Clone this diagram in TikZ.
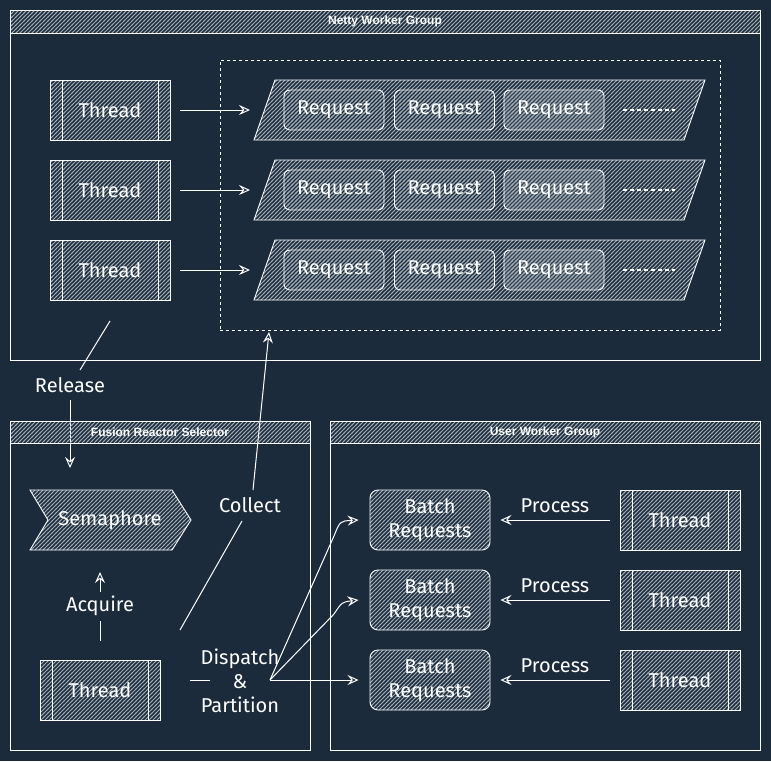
\documentclass[tikz,border=0pt]{standalone}
\usepackage{fontspec}
\setmainfont{Fira Sans}
\newfontfamily\titlefont{Liberation Sans}
\usetikzlibrary{arrows.meta,patterns.meta}
\definecolor{bg}{HTML}{1B2B3C}
\definecolor{hatchc}{HTML}{A3AEB9}
\tikzdeclarepattern{
  name=sketchhatch,
  type=uncolored,
  bottom left={(-1pt,-1pt)},
  top right={(5pt,5pt)},
  tile size={(4pt,4pt)},
  code={\draw[line width=0.75pt] (-1pt,-1pt) -- (5pt,5pt);}
}
\begin{document}
\begin{tikzpicture}[x=1pt,y=-1pt,
  every node/.style={text=white},
  hand/.style={font=\fontsize{20}{24}\selectfont},
  hatchbox/.style={draw=white, line width=0.9pt, pattern=sketchhatch, pattern color=hatchc},
  titlebar/.style={hatchbox, inner sep=0pt, font=\titlefont\bfseries\fontsize{12}{13}\selectfont},
  groupbox/.style={draw=white, line width=0.9pt, inner sep=0pt},
  threadbox/.style={hatchbox, hand, minimum width=120pt, minimum height=60pt, inner sep=0pt,
    path picture={
      \draw[white, line width=0.8pt] ([xshift=12pt]path picture bounding box.north west) -- ([xshift=12pt]path picture bounding box.south west);
      \draw[white, line width=0.8pt] ([xshift=-12pt]path picture bounding box.north east) -- ([xshift=-12pt]path picture bounding box.south east);
    }},
  reqbox/.style={hatchbox, hand, rounded corners=6pt, minimum width=100pt, minimum height=40pt, inner sep=0pt},
  batchbox/.style={hatchbox, hand, rounded corners=8pt, minimum width=120pt, minimum height=60pt, inner sep=0pt, align=center},
  plain/.style={draw=white, line width=1pt},
  arr/.style={draw=white, line width=1pt, -{Stealth[open, length=11pt, width=10pt, inset=4pt]}},
  dots/.style={draw=white, line width=1.2pt, dash pattern=on 4pt off 3pt}
]
\fill[bg] (0,0) rectangle (771,761);
\useasboundingbox (0,0) rectangle (771,761);

% Netty Worker Group
\node[titlebar, minimum width=750pt, minimum height=23pt] (nt) at (385,21.5) {Netty Worker Group};
\node[groupbox, minimum width=750pt, minimum height=327pt] (ng) at (385,196.5) {};
\node[draw=white, line width=0.9pt, dash pattern=on 3pt off 3pt, minimum width=500pt, minimum height=270pt, inner sep=0pt] (dash) at (470,195) {};

\foreach \i/\y in {1/110,2/190,3/270}{
  \node[threadbox] (t\i) at (110,\y) {Thread};
  \draw[hatchbox] (254,\y+30) -- (275,\y-30) -- (705,\y-30) -- (684,\y+30) -- cycle;
  \coordinate (pin\i) at (250,\y);
  \draw[arr] ([xshift=10pt]t\i.east) -- (pin\i);
  \node[reqbox] (ra\i) at (334,\y) {Request};
  \node[reqbox] (rb\i) at (444.5,\y) {Request};
  \node[reqbox, preaction={fill=white, fill opacity=0.1}] (rc\i) at (554,\y) {Request};
  \coordinate (da\i) at (623,\y);
  \coordinate (db\i) at (675,\y);
  \draw[dots] (da\i) -- (db\i);
}

% Release
\coordinate (r1) at (110,321);
\coordinate (r2) at (80,370);
\node[hand] (rel) at (70,385) {Release};
\coordinate (r3) at (70,400);
\coordinate (r4) at (70,468);
\draw[plain] (r1) -- (r2);
\draw[arr] (r3) -- (r4);

% Fusion Reactor Selector
\node[titlebar, minimum width=300pt, minimum height=22pt] (ft) at (160,432) {Fusion Reactor Selector};
\node[groupbox, minimum width=300pt, minimum height=307pt] (fg) at (160,596.5) {};

% User Worker Group
\node[titlebar, minimum width=430pt, minimum height=22pt] (ut) at (545,432) {User Worker Group};
\node[groupbox, minimum width=430pt, minimum height=307pt] (ug) at (545,596.5) {};

% Semaphore
\draw[hatchbox] (30,490) -- (172,490) -- (191,520) -- (172,550) -- (30,550) -- (48,520) -- cycle;
\node[hand] (sem) at (110,520) {Semaphore};

% Bottom thread
\node[threadbox] (tb) at (100,690) {Thread};

% Acquire
\node[hand] (acq) at (100,606) {Acquire};
\coordinate (a1) at (100,641);
\coordinate (a2) at (100,621);
\coordinate (a3) at (100,592);
\coordinate (a4) at (100,572);
\draw[plain] (a1) -- (a2);
\draw[arr] (a3) -- (a4);

% Collect
\node[hand] (coll) at (250,505) {Collect};
\coordinate (c1) at (180,630);
\coordinate (c2) at (242,521);
\coordinate (c3) at (253,490);
\coordinate (c4) at (269,332);
\draw[plain] (c1) -- (c2);
\draw[arr] (c3) -- (c4);

% Dispatch & Partition
\node[hand, align=center] (disp) at (240,681) {Dispatch\\\&\\Partition};
\coordinate (d1) at (190,680);
\coordinate (d2) at (210,680);
\draw[plain] (d1) -- (d2);
\coordinate (d0) at (270,680);

% Batch requests and user threads
\foreach \i/\y in {1/520,2/600,3/680}{
  \node[batchbox] (b\i) at (430,\y) {Batch\\Requests};
  \node[threadbox] (u\i) at (680,\y) {Thread};
  \draw[arr] ([xshift=-10pt]u\i.west) -- ([xshift=10pt]b\i.east);
  \node[hand] (p\i) at (555,\y-14) {Process};
}
\coordinate (k1) at (334,536);
\coordinate (q1) at (340,521);
\coordinate (k2) at (334,614);
\coordinate (q2) at (342,602);
\draw[arr] (d0) -- (k1) .. controls (q1) .. ([xshift=-11pt]b1.west);
\draw[arr] (d0) -- (k2) .. controls (q2) .. ([xshift=-11pt]b2.west);
\draw[arr] (d0) -- ([xshift=-11pt]b3.west);
\end{tikzpicture}
\end{document}
